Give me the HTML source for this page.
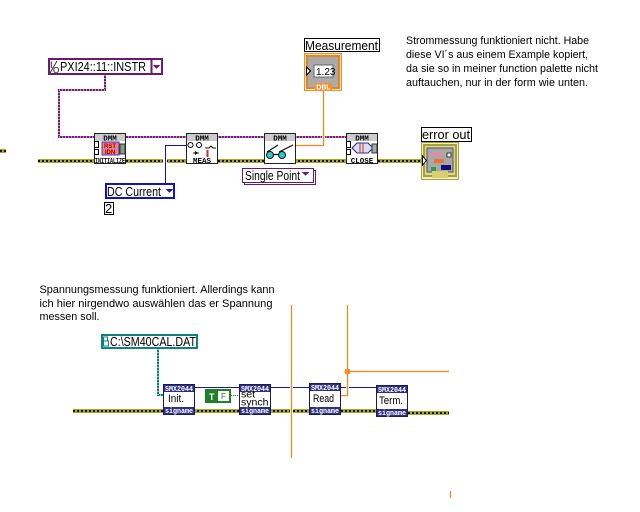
<!DOCTYPE html>
<html><head><meta charset="utf-8"><style>
html,body{margin:0;padding:0;background:#fff}
svg{display:block}
text{font-family:"Liberation Sans",Arial,sans-serif;fill:#000}
.t{font-size:11px}
.l{font-size:13px}
.h{font-size:7.5px;font-weight:bold;text-anchor:middle;font-family:"Liberation Mono",monospace}
.s{font-size:7.5px;font-weight:bold;fill:#fff;font-family:"Liberation Mono",monospace}
</style></head><body>
<svg width="640" height="512" viewBox="0 0 640 512" xmlns="http://www.w3.org/2000/svg" shape-rendering="crispEdges">
<rect width="640" height="512" fill="#fff"/>

<!-- text notes -->
<text class="t" x="406" y="44" textLength="183" lengthAdjust="spacingAndGlyphs">Strommessung funktioniert nicht. Habe</text>
<text class="t" x="406" y="58" textLength="182" lengthAdjust="spacingAndGlyphs">diese VI´s aus einem Example kopiert,</text>
<text class="t" x="406" y="72" textLength="192" lengthAdjust="spacingAndGlyphs">da sie so in meiner function palette nicht</text>
<text class="t" x="406" y="86" textLength="182" lengthAdjust="spacingAndGlyphs">auftauchen, nur in der form wie unten.</text>
<text class="t" x="39.5" y="293" textLength="235" lengthAdjust="spacingAndGlyphs">Spannungsmessung funktioniert. Allerdings kann</text>
<text class="t" x="39.5" y="307" textLength="233" lengthAdjust="spacingAndGlyphs">ich hier nirgendwo auswählen das er Spannung</text>
<text class="t" x="39.5" y="320" textLength="60" lengthAdjust="spacingAndGlyphs">messen soll.</text>

<!-- top wires -->
<path d="M105 75V90H59V137H346" fill="none" stroke="#7a1a78" stroke-width="2"/>
<path d="M105 75V90H59V137H346" fill="none" stroke="#fff" stroke-width="1" stroke-dasharray="1 2"/>
<path d="M38 161H346M378 161H422M0 151H6" stroke="#a8a828" stroke-width="4" fill="none"/>
<path d="M38 161H346M378 161H422M0 151H6" stroke="#111" stroke-width="2" stroke-dasharray="2 2" fill="none"/>
<rect x="163" y="158" width="4" height="6" fill="#fff"/>
<path d="M165.5 183V145.5H186" fill="none" stroke="#1414b0"/>
<path d="M323.5 91V145.5H296" fill="none" stroke="#fdeedd" stroke-width="3"/>
<path d="M323.5 91V145.5H296" fill="none" stroke="#ee8a1e"/>

<!-- PXI -->
<rect x="49" y="59" width="113" height="15" fill="#fff" stroke="#6a1a70" stroke-width="2"/>
<text x="50" y="68" style="font-size:9px">I</text>
<path d="M50 73L57 61" stroke="#333" shape-rendering="auto"/>
<text x="53" y="73" style="font-size:8px">O</text>
<text class="l" x="60" y="71" textLength="86" lengthAdjust="spacingAndGlyphs">PXI24::11::INSTR</text>
<path d="M151.5 59V74" stroke="#6a1a70" stroke-width="2"/>
<path d="M153 65h7l-3.500 4z" fill="#6a1a70"/>

<!-- DMM init -->
<rect x="94.5" y="133.5" width="31" height="30" fill="#fff" stroke="#222"/>
<rect x="95" y="134" width="30" height="7" fill="#ccc"/>
<text class="h" x="110" y="140.5">DMM</text>
<rect x="94.5" y="141.5" width="4" height="6" fill="#fff" stroke="#000"/>
<rect x="94.5" y="149.5" width="4" height="5" fill="#fff" stroke="#000"/>
<rect x="102" y="142" width="17" height="13" fill="#f08080" stroke="#3838c0"/>
<text x="110" y="148" style="font-size:6px;font-weight:bold;fill:#900;text-anchor:middle">RST</text>
<text x="110" y="154" style="font-size:6px;font-weight:bold;fill:#900;text-anchor:middle">IDN</text>
<rect x="120" y="144" width="5" height="10" fill="#8a9a80" stroke="#333"/>
<text class="h" x="110" y="163" textLength="30" lengthAdjust="spacingAndGlyphs">INITIALIZE</text>

<!-- DMM meas -->
<rect x="186.5" y="133.5" width="31" height="30" fill="#fff" stroke="#222"/>
<rect x="187" y="134" width="30" height="7" fill="#ccc"/>
<text class="h" x="202" y="140.5">DMM</text>
<circle cx="190.5" cy="145" r="2.5" fill="#fff" stroke="#111"/>
<circle cx="199" cy="145" r="2.5" fill="#fff" stroke="#111"/>
<path d="M205 148h4l2-2 2 2h3" fill="none" stroke="#111"/>
<path d="M193 153h6" stroke="#111"/>
<path d="M195 151l3 2-3 2z" fill="#111"/>
<rect x="206.5" y="150" width="2" height="7" fill="#c03030"/>
<text class="h" x="202" y="163">MEAS</text>

<!-- DMM read -->
<rect x="264.5" y="133.5" width="31" height="30" fill="#fff" stroke="#222"/>
<rect x="265" y="134" width="30" height="7" fill="#ccc"/>
<text class="h" x="280" y="140.5">DMM</text>
<g shape-rendering="auto">
<circle cx="270" cy="155" r="3.5" fill="#30c8c8" stroke="#111"/>
<circle cx="282" cy="155" r="3.5" fill="#30c8c8" stroke="#111"/>
<path d="M273 154.500h6M267 152l11-7M279 152l14-7" fill="none" stroke="#111" stroke-width="1.200"/>
</g>

<!-- DMM close -->
<rect x="346.5" y="133.5" width="31" height="30" fill="#fff" stroke="#222"/>
<rect x="347" y="134" width="30" height="7" fill="#ccc"/>
<text class="h" x="362" y="140.5">DMM</text>
<rect x="346.5" y="141.5" width="4" height="6" fill="#fff" stroke="#000"/>
<rect x="346.5" y="149.5" width="4" height="5" fill="#fff" stroke="#000"/>
<path d="M352 148l5-5h11l5 5-5 5h-11z" fill="#dde" stroke="#2828a0"/>
<path d="M360 143v10M363 143v10" stroke="#c03030"/>
<rect x="372" y="144" width="5" height="9" fill="#aaa" stroke="#333"/>
<text class="h" x="362" y="163">CLOSE</text>

<!-- DC Current -->
<rect x="106" y="184" width="68" height="14" fill="#fff" stroke="#1212c8" stroke-width="2"/>
<text class="l" x="107" y="196" textLength="54" lengthAdjust="spacingAndGlyphs">DC Current</text>
<path d="M166 189h7l-3.500 4z" fill="#1212c8"/>
<rect x="104.5" y="202.5" width="9" height="12" fill="#fff" stroke="#000"/>
<text class="l" x="105" y="213">2</text>

<!-- Single Point -->
<rect x="244.5" y="170.500" width="71" height="14" fill="#fff" stroke="#6a1a70"/>
<rect x="242.5" y="168.500" width="71" height="14" fill="#fff" stroke="#6a1a70"/>
<text class="l" x="245" y="180" textLength="55" lengthAdjust="spacingAndGlyphs">Single Point</text>
<path d="M302 172h7l-3.500 4z" fill="#6a1a70"/>

<!-- Measurement -->
<rect x="304.5" y="38.500" width="75" height="13" fill="#fff" stroke="#000"/>
<text class="l" x="305" y="50" textLength="73" lengthAdjust="spacingAndGlyphs">Measurement</text>
<rect x="304.5" y="53.500" width="37" height="37" fill="#fbe0b8" stroke="#f09030"/>
<rect x="307" y="56" width="32" height="32" fill="#aaa" stroke="#e08828" stroke-width="2"/>
<rect x="314" y="65" width="19" height="12" fill="#fff" stroke="#666"/>
<text x="316" y="75" style="font-size:10px">1.23</text>
<path d="M306.5 67l4 4-4 4z" fill="#fff" stroke="#000"/>
<rect x="315" y="83" width="17" height="7" fill="#f09030"/>
<text x="323.5" y="89.500" style="font-size:7px;font-weight:bold;fill:#fff;text-anchor:middle">DBL</text>

<!-- error out -->
<rect x="421.5" y="127.500" width="50" height="14" fill="#fff" stroke="#000"/>
<text class="l" x="422" y="139" textLength="48" lengthAdjust="spacingAndGlyphs">error out</text>
<rect x="421.5" y="142.500" width="37" height="37" fill="#f4f0c0" stroke="#a8a040"/>
<rect x="424" y="145" width="32" height="31" fill="#d8d890" stroke="#a8a040" stroke-width="2"/>
<rect x="427" y="148" width="26" height="24" fill="#a8a8a8" stroke="#555"/>
<rect x="431" y="153" width="11" height="3" fill="#f080b0"/>
<rect x="447" y="153" width="4" height="4" fill="#fff" stroke="#333"/>
<rect x="434" y="159" width="10" height="4" fill="#f07030"/>
<rect x="431" y="167" width="5" height="4" fill="#20a040"/>
<rect x="441" y="165" width="10" height="5" fill="#101080"/>
<rect x="432" y="171" width="16" height="7" fill="#d8d070"/>
<path d="M422.5 156l4 4.500-4 4.500z" fill="#fff" stroke="#000"/>

<!-- Lower wires -->
<path d="M73 411H376M408 413H449" stroke="#a8a828" stroke-width="4" fill="none"/>
<path d="M73 411H376M408 413H449" stroke="#111" stroke-width="2" stroke-dasharray="2 2" fill="none"/>
<path d="M195 387.500H376" stroke="#1a1a90" fill="none"/>
<path d="M231 395.500H239" stroke="#20802a" stroke-dasharray="1 1"/>
<path d="M158 349V395H163" fill="none" stroke="#108080" stroke-width="2"/>
<path d="M158 349V395H163" fill="none" stroke="#fff" stroke-dasharray="1 2"/>
<g fill="none" stroke="#fdeedd" stroke-width="3">
<path d="M291.5 305V458M347.500 305V395.500H341M347 371.500H449M450.500 491V498"/>
</g>
<g fill="none" stroke="#ee8a1e">
<path d="M291.5 305V458M347.500 305V395.500H341M347 371.500H449M450.500 491V498"/>
</g>
<circle cx="347.5" cy="371.500" r="3" fill="#f09020" shape-rendering="auto"/>

<!-- path constant -->
<rect x="102" y="335" width="95" height="13" fill="#fff" stroke="#108080" stroke-width="2"/>
<rect x="103.5" y="337" width="4" height="4" fill="#fff" stroke="#108080"/>
<rect x="103.5" y="341" width="5" height="5" fill="#fff" stroke="#108080"/>
<text class="l" x="110" y="346" textLength="86" lengthAdjust="spacingAndGlyphs">C:\SM40CAL.DAT</text>

<!-- Init -->
<rect x="163.5" y="384.500" width="31" height="30" fill="#fff" stroke="#1a1a60"/>
<rect x="164" y="385" width="30" height="7" fill="#303080"/><text class="s" x="165" y="391" textLength="28" lengthAdjust="spacingAndGlyphs">SMX2044</text>
<rect x="164" y="407" width="30" height="7" fill="#303080"/><text class="s" x="165" y="413" textLength="28" lengthAdjust="spacingAndGlyphs">signame</text>
<text class="t" x="168" y="402" textLength="16" lengthAdjust="spacingAndGlyphs">Init.</text>

<!-- Bool -->
<rect x="206" y="390" width="24" height="12" fill="#fff" stroke="#20802a" stroke-width="2"/>
<rect x="207" y="391" width="11" height="10" fill="#20802a"/>
<text x="209" y="400" style="font-size:9px;font-weight:bold;fill:#fff">T</text>
<text x="221" y="399" style="font-size:8px;fill:#20802a">F</text>

<!-- set synch -->
<rect x="239.5" y="384.500" width="31" height="30" fill="#fff" stroke="#1a1a60"/>
<rect x="240" y="385" width="30" height="7" fill="#303080"/><text class="s" x="241" y="391" textLength="28" lengthAdjust="spacingAndGlyphs">SMX2044</text>
<text class="t" x="241" y="397.500" style="font-size:10.500px">set</text>
<text class="t" x="241" y="405.500" style="font-size:10.500px">synch</text>
<rect x="240" y="407" width="30" height="7" fill="#303080"/><text class="s" x="241" y="413" textLength="28" lengthAdjust="spacingAndGlyphs">signame</text>

<!-- Read -->
<rect x="309.5" y="383.500" width="31" height="31" fill="#fff" stroke="#1a1a60"/>
<rect x="310" y="384" width="30" height="7" fill="#303080"/><text class="s" x="311" y="390" textLength="28" lengthAdjust="spacingAndGlyphs">SMX2044</text>
<rect x="310" y="407" width="30" height="7" fill="#303080"/><text class="s" x="311" y="413" textLength="28" lengthAdjust="spacingAndGlyphs">signame</text>
<text class="t" x="313" y="402" textLength="21" lengthAdjust="spacingAndGlyphs">Read</text>

<!-- Term -->
<rect x="376.5" y="385.500" width="31" height="31" fill="#fff" stroke="#1a1a60"/>
<rect x="377" y="386" width="30" height="7" fill="#303080"/><text class="s" x="378" y="392" textLength="28" lengthAdjust="spacingAndGlyphs">SMX2044</text>
<rect x="377" y="409" width="30" height="7" fill="#303080"/><text class="s" x="378" y="415" textLength="28" lengthAdjust="spacingAndGlyphs">signame</text>
<text class="t" x="379" y="404" textLength="24" lengthAdjust="spacingAndGlyphs">Term.</text>
</svg>
</body></html>
